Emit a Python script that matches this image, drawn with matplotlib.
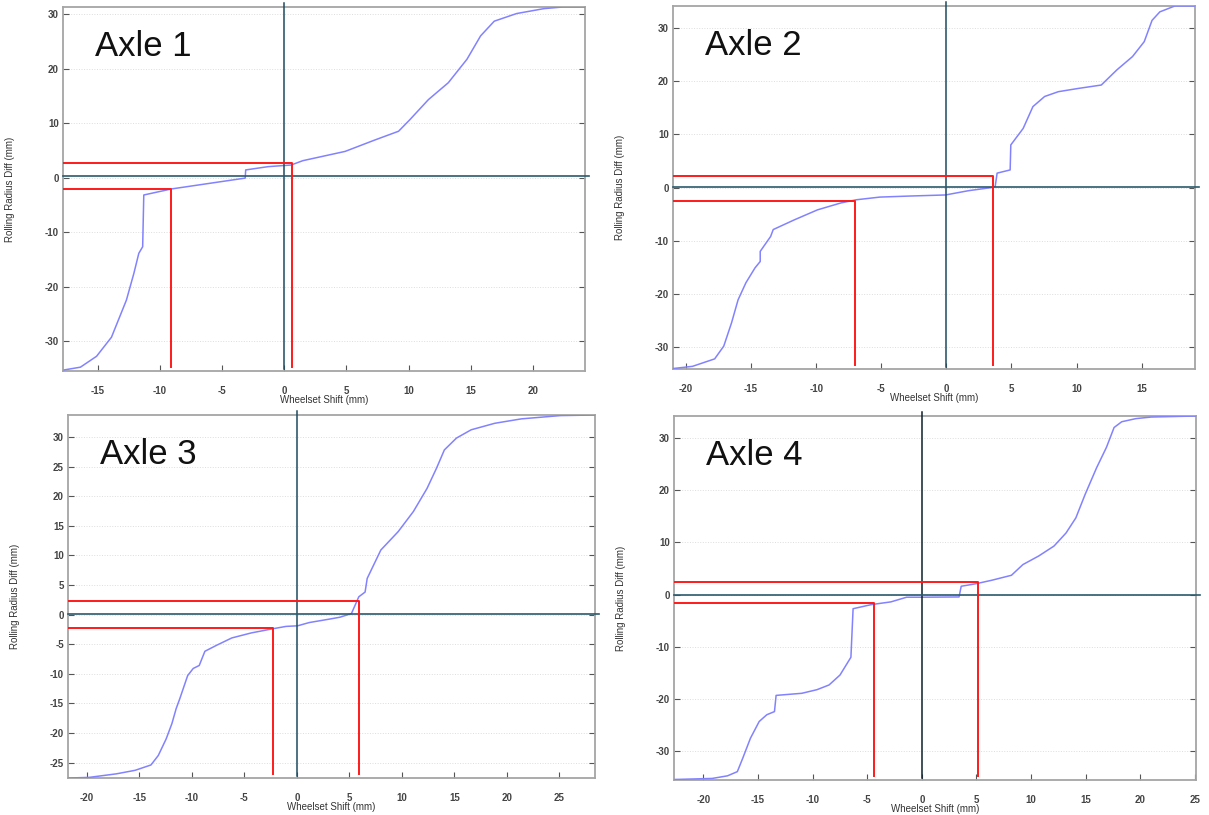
import matplotlib.pyplot as plt
import numpy as np

plt.rcParams['font.family'] = ['Liberation Sans', 'DejaVu Sans']
plt.rcParams['axes.unicode_minus'] = False

W, H = 1209, 815

# wheelset shift (mm) vs rolling radius difference (mm)
axle1_x = [-17.7, -16.4, -15.1, -13.9, -12.7, -12.1, -11.7, -11.39, -11.3, -9.1,
           -3.14, -3.1, -1.3, 0.55, 1.5, 4.9, 7.3, 9.2, 10.1, 11.6, 13.2, 14.7,
           15.8, 16.9, 18.7, 20.9, 22.4, 24.2]
axle1_y = [-35.3, -34.8, -32.8, -29.3, -22.5, -17.6, -13.9, -12.7, -3.2, -2.1,
           -0.1, 1.4, 2.0, 2.3, 3.1, 4.8, 6.9, 8.5, 10.6, 14.3, 17.4, 21.7,
           26.0, 28.7, 30.1, 31.0, 31.3, 31.3]

axle2_x = [-20.95, -19.5, -17.8, -17.1, -16.5, -16.0, -15.4, -14.7, -14.3, -14.3,
           -13.5, -13.3, -11.7, -9.9, -8.1, -6.9, -5.1, -2.75, -0.06, 1.7, 3.5,
           3.75, 3.9, 4.9, 4.95, 5.9, 6.65, 7.55, 8.6, 10.1, 11.9, 13.1, 14.3,
           15.2, 15.8, 16.4, 17.55, 19.1]
axle2_y = [-34.0, -33.6, -32.2, -29.8, -25.4, -21.1, -17.9, -15.1, -13.9, -12.0,
           -9.2, -7.9, -6.1, -4.2, -2.9, -2.3, -1.8, -1.6, -1.4, -0.6, 0.0,
           0.2, 2.7, 3.3, 8.0, 11.1, 15.2, 17.1, 18.0, 18.6, 19.25, 22.1, 24.6,
           27.4, 31.4, 33.0, 34.1, 34.1]

axle3_x = [-21.7, -19.8, -17.2, -15.4, -13.9, -13.2, -12.45, -11.9, -11.5, -11.15,
           -10.4, -9.87, -9.3, -8.76, -7.66, -6.2, -4.34, -2.3, -1.03, 0.07, 1.18,
           3.0, 4.1, 5.2, 5.9, 6.5, 6.7, 8.0, 9.65, 11.1, 12.4, 13.3, 14.05, 15.2,
           16.6, 18.85, 21.4, 25.1, 28.4]
axle3_y = [-27.6, -27.5, -26.9, -26.3, -25.4, -23.8, -21.0, -18.4, -15.9, -14.2,
           -10.3, -9.1, -8.6, -6.2, -5.2, -3.95, -3.1, -2.4, -2.0, -1.9, -1.35,
           -0.8, -0.45, 0.17, 3.0, 3.8, 6.1, 10.9, 14.0, 17.4, 21.3, 24.7, 27.8,
           29.8, 31.2, 32.3, 33.05, 33.6, 33.7]

axle4_x = [-22.6, -19.2, -17.8, -16.9, -16.4, -15.7, -14.9, -14.2, -13.5, -13.35,
           -11.0, -9.6, -8.5, -7.5, -6.5, -6.3, -4.6, -2.85, -1.4, 0.0, 3.4, 3.6,
           5.0, 6.4, 8.2, 9.25, 10.7, 12.1, 13.2, 14.1, 14.95, 16.0, 16.9, 17.6,
           18.3, 19.6, 21.0, 25.1]
axle4_y = [-35.4, -35.2, -34.7, -33.9, -31.3, -27.5, -24.3, -23.0, -22.4, -19.3,
           -18.9, -18.2, -17.3, -15.4, -12.0, -2.7, -1.9, -1.4, -0.5, -0.5, -0.45,
           1.6, 2.1, 2.75, 3.7, 5.75, 7.4, 9.3, 11.8, 14.7, 19.2, 24.3, 28.2, 32.0,
           33.1, 33.7, 34.0, 34.2]

# marked operating points (shift, radius diff) for the red guide lines
axle1_marks = [(0.6, 2.6), (-9.1, -2.1)]
axle2_marks = [(3.6, 2.25), (-7.0, -2.55)]
axle3_marks = [(5.95, 2.25), (-2.3, -2.2)]
axle4_marks = [(5.1, 2.45), (-4.35, -1.6)]

# level of the dark horizontal reference line
axle_zero = [0.3, 0.05, 0.1, 0.0]

titles = ['Axle 1', 'Axle 2', 'Axle 3', 'Axle 4']
xlims = [(-17.8, 24.2), (-21.0, 19.1), (-21.8, 28.4), (-22.7, 25.1)]
ylims = [(-35.5, 31.3), (-34.1, 34.1), (-27.6, 33.7), (-35.5, 34.2)]
xticks = [np.arange(-15, 21, 5), np.arange(-20, 16, 5),
          np.arange(-20, 26, 5), np.arange(-20, 26, 5)]
yticks = [np.arange(-30, 31, 10), np.arange(-30, 31, 10),
          np.arange(-25, 31, 5), np.arange(-30, 31, 10)]

curves = [(axle1_x, axle1_y), (axle2_x, axle2_y), (axle3_x, axle3_y), (axle4_x, axle4_y)]
marks = [axle1_marks, axle2_marks, axle3_marks, axle4_marks]

# axes boxes in pixels: left, top, right, bottom
boxes = [(63, 7, 585, 371), (673, 6, 1195, 369), (68, 415, 595, 778), (674, 416, 1196, 780)]
vline_colors = ['#1d4c60', '#1d4c60', '#1d4c60', '#0d1f2a']

fig = plt.figure(figsize=(W / 100, H / 100), dpi=100)
fig.set_facecolor('white')

for i in range(4):
    l, t, r, b = boxes[i]
    ax = fig.add_axes([l / W, 1 - b / H, (r - l) / W, (b - t) / H])
    x, y = curves[i]
    ax.plot(x, y, color='#8282ff', lw=1.1, zorder=3)

    x0, x1 = xlims[i]
    y0, y1 = ylims[i]
    ax.set_xlim(x0, x1)
    ax.set_ylim(y0, y1)

    ax.axvline(0, ymin=0.005, ymax=1.01, color=vline_colors[i], lw=1.1,
               clip_on=False, zorder=4)
    ax.axhline(axle_zero[i], xmin=0, xmax=1.008, color='#2a5a6e', lw=1.2,
               clip_on=False, zorder=4)

    for mx, my in marks[i]:
        ax.plot([x0, mx, mx], [my, my, y0 + 0.01 * (y1 - y0)],
                color='#ff1a1a', lw=1.4, zorder=5)

    ax.set_xticks(xticks[i])
    ax.set_yticks(yticks[i])
    ax.tick_params(direction='in', length=4, width=0.8, color='#555555',
                   labelsize=7, labelcolor='#444444', right=True)
    ax.tick_params(axis='x', pad=11)
    ax.tick_params(axis='y', pad=3)
    for lab in ax.get_xticklabels() + ax.get_yticklabels():
        lab.set_fontweight('bold')

    ax.grid(axis='y', color='#dddddd', lw=0.7, linestyle=':')
    for s in ax.spines.values():
        s.set_color('#a5a5a5')
        s.set_linewidth(1.3)

    ax.set_xlabel('Wheelset Shift (mm)', fontsize=7, color='#333333', labelpad=-1)
    ax.set_ylabel('Rolling Radius Diff (mm)', fontsize=7, color='#333333')
    ax.yaxis.set_label_coords(-48 / (r - l), 0.5)

    ax.text(32 / (r - l), 1 - 49 / (b - t), titles[i], transform=ax.transAxes,
            fontsize=25, color='#111111', va='baseline', ha='left', zorder=6)

fig.savefig('out.png', dpi=100, facecolor='white')
